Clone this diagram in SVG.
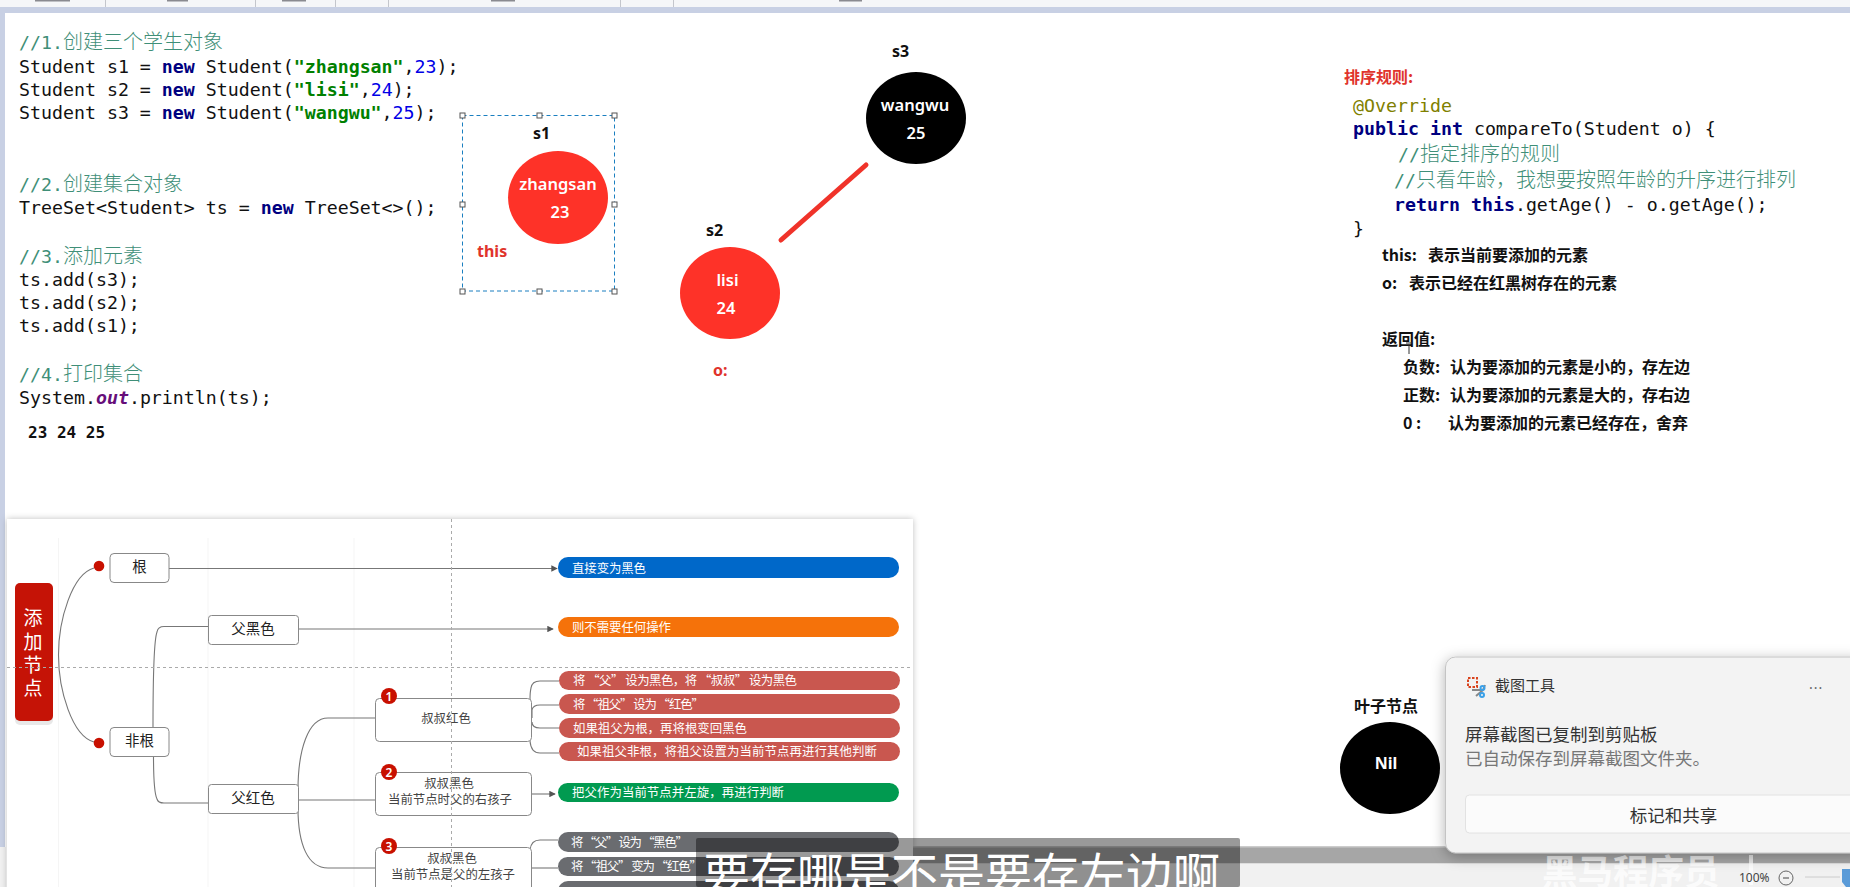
<svg xmlns="http://www.w3.org/2000/svg" width="1850" height="887" viewBox="0 0 1850 887">
<style>
text{font-family:"Noto Sans","Noto Sans CJK SC",sans-serif}
.code{font-family:"DejaVu Sans Mono","Noto Sans CJK SC",monospace;font-size:18.25px;fill:#111}
.cm{font-family:"DejaVu Sans Mono","Noto Sans CJK SC",monospace;font-size:18.25px;fill:#3f8f78}
.cj{font-family:"Noto Sans CJK SC",sans-serif;font-size:20px;font-weight:300}
.kw{fill:#000080;font-weight:bold}
.str{fill:#008000;font-weight:bold}
.num{fill:#0000e6}
.lb{font-size:16px;font-weight:700;fill:#111}
.in{font-size:16.5px;font-weight:600;fill:#fff;text-anchor:middle}
.red{font-size:16px;font-weight:700;fill:#e0332b}
.note{font-family:"Noto Sans CJK SC",sans-serif;font-size:16px;font-weight:700;fill:#111}
.h{fill:#fff;stroke:#555;stroke-width:1}
.conn{fill:none;stroke:#777;stroke-width:1.1}
.mn{fill:#fff;stroke:#888;stroke-width:1}
.mt{font-family:"Noto Sans CJK SC",sans-serif;font-size:14.5px;fill:#222;text-anchor:middle}
.ms{font-family:"Noto Sans CJK SC",sans-serif;font-size:12.4px;fill:#444;text-anchor:middle}
.pt{font-family:"Noto Sans CJK SC",sans-serif;font-size:12.4px;fill:#fff}
.bd{fill:#c81000}
.bt{font-size:12px;font-weight:600;fill:#fff;text-anchor:middle}
.guide{fill:none;stroke:#aaa;stroke-width:1;stroke-dasharray:3 3}
.faint{stroke:#f5f5f5;stroke-width:1}
</style>
<defs>
<marker id="ah" viewBox="0 0 8 8" refX="7" refY="4" markerWidth="6.5" markerHeight="6.5" markerUnits="userSpaceOnUse" orient="auto"><path d="M0 0L8 4L0 8Z" fill="#555"/></marker>
<filter id="sh" x="-5%" y="-5%" width="110%" height="110%"><feDropShadow dx="0" dy="0" stdDeviation="3" flood-color="#000" flood-opacity=".25"/></filter>
<filter id="ts" x="-10%" y="-10%" width="120%" height="120%"><feDropShadow dx="0" dy="3" stdDeviation="7" flood-color="#000" flood-opacity=".3"/></filter>
</defs>

<rect width="1850" height="887" fill="#fff"/>
<g id="chrome">
<rect width="1850" height="7" fill="#f5f6f8"/>
<rect y="7" width="1850" height="6" fill="#c8d0e4"/>
<rect y="13" width="5" height="834" fill="#c8d0e4"/>
<rect y="847" width="6" height="40" fill="#f1f1f1"/>
<g fill="#c4c6cc"><rect x="105" width="1" height="7"/><rect x="255" width="1" height="7"/><rect x="335" width="1" height="7"/><rect x="388" width="1" height="7"/><rect x="620" width="1" height="7"/><rect x="673" width="1" height="7"/></g>
<g fill="#8a8a90"><rect x="35" width="35" height="1.500"/><rect x="167" width="21" height="1.500"/><rect x="282" width="24" height="1.500"/><rect x="491" width="24" height="1.500"/><rect x="839" width="23" height="1.500"/></g>
</g>

<g id="code-main">
<text class="cm" x="19" y="49">//1.<tspan class="cj">创建三个学生对象</tspan></text>
<text class="code" x="19" y="73">Student s1 = <tspan class="kw">new</tspan> Student(<tspan class="str">"zhangsan"</tspan>,<tspan class="num">23</tspan>);</text>
<text class="code" x="19" y="96">Student s2 = <tspan class="kw">new</tspan> Student(<tspan class="str">"lisi"</tspan>,<tspan class="num">24</tspan>);</text>
<text class="code" x="19" y="119">Student s3 = <tspan class="kw">new</tspan> Student(<tspan class="str">"wangwu"</tspan>,<tspan class="num">25</tspan>);</text>
<text class="cm" x="19" y="191">//2.<tspan class="cj">创建集合对象</tspan></text>
<text class="code" x="19" y="214">TreeSet&lt;Student&gt; ts = <tspan class="kw">new</tspan> TreeSet&lt;&gt;();</text>
<text class="cm" x="19" y="263">//3.<tspan class="cj">添加元素</tspan></text>
<text class="code" x="19" y="286">ts.add(s3);</text>
<text class="code" x="19" y="309">ts.add(s2);</text>
<text class="code" x="19" y="332">ts.add(s1);</text>
<text class="cm" x="19" y="381">//4.<tspan class="cj">打印集合</tspan></text>
<text class="code" x="19" y="404">System.<tspan fill="#660e7a" font-style="italic" font-weight="bold">out</tspan>.println(ts);</text>
<text x="28" y="438" style="font-family:'DejaVu Sans Mono',monospace;font-size:16px;font-weight:700;fill:#111">23 24 25</text>
</g>

<g id="connectors-tree">
<line x1="866" y1="165" x2="781" y2="240" stroke="#f0332a" stroke-width="5" stroke-linecap="round"/>
</g>
<g id="node-s1">
<ellipse cx="558" cy="197.500" rx="50" ry="46.500" fill="#fe3228"/>
<text class="lb" x="533" y="139">s1</text>
<text class="in" x="558" y="190">zhangsan</text>
<text class="in" x="560" y="218">23</text>
<text class="red" x="477" y="257">this</text>
</g>
<g id="selection">
<rect x="462.500" y="115.500" width="152" height="175.500" fill="none" stroke="#1a7fc0" stroke-width="1" stroke-dasharray="4 3"/>
<rect class="h" x="460" y="113" width="5" height="5"/><rect class="h" x="537" y="113" width="5" height="5"/><rect class="h" x="612" y="113" width="5" height="5"/>
<rect class="h" x="460" y="202" width="5" height="5"/><rect class="h" x="612" y="202" width="5" height="5"/>
<rect class="h" x="460" y="289" width="5" height="5"/><rect class="h" x="537" y="289" width="5" height="5"/><rect class="h" x="612" y="289" width="5" height="5"/>
</g>
<g id="node-s2">
<ellipse cx="730" cy="293" rx="50" ry="46" fill="#fe3228"/>
<text class="lb" x="706" y="236">s2</text>
<text class="in" x="727.500" y="286">lisi</text>
<text class="in" x="726" y="314">24</text>
<text class="red" x="713" y="376">o:</text>
</g>
<g id="node-s3">
<ellipse cx="916" cy="118" rx="50" ry="46" fill="#000"/>
<text class="lb" x="892" y="57">s3</text>
<text class="in" x="915" y="111">wangwu</text>
<text class="in" x="916" y="139">25</text>
</g>

<g id="rules">
<text x="1344" y="83" style="font-family:'Noto Sans CJK SC',sans-serif;font-size:16px;font-weight:700;fill:#e0332b">排序规则:</text>
<text class="code" x="1353" y="112" style="fill:#808000">@Override</text>
<text class="code" x="1353" y="135"><tspan class="kw">public</tspan> <tspan class="kw">int</tspan> compareTo(Student o) {</text>
<text class="cm" x="1398" y="161">//<tspan class="cj">指定排序的规则</tspan></text>
<text class="cm" x="1394" y="187">//<tspan class="cj">只看年龄，我想要按照年龄的升序进行排列</tspan></text>
<text class="code" x="1394" y="211"><tspan class="kw">return</tspan> <tspan class="kw">this</tspan>.getAge() - o.getAge();</text>
<text class="code" x="1353" y="235">}</text>
<text class="note" x="1382" y="261">this: <tspan x="1428">表示当前要添加的元素</tspan></text>
<text class="note" x="1382" y="289">o: <tspan x="1409">表示已经在红黑树存在的元素</tspan></text>
<text class="note" x="1382" y="345">返回值:</text>
<text class="note" x="1403" y="373">负数: <tspan x="1450">认为要添加的元素是小的，存左边</tspan></text>
<text class="note" x="1403" y="401">正数: <tspan x="1450">认为要添加的元素是大的，存右边</tspan></text>
<text class="note" x="1403" y="429">0 : <tspan x="1448">认为要添加的元素已经存在，舍弃</tspan></text>
<path d="M1409 345V354M1406 343h6" stroke="#333" stroke-width="1" fill="none"/>
</g>

<g id="node-nil">
<text class="note" x="1354" y="712">叶子节点</text>
<ellipse cx="1390" cy="768" rx="50" ry="46" fill="#000"/>
<text x="1386" y="769" style="font-size:16px;font-weight:700;fill:#fff;text-anchor:middle">Nil</text>
</g>

<g id="mindmap">
<rect x="7" y="519" width="906" height="380" fill="#fff" filter="url(#sh)"/>
<g class="faint"><line x1="58.500" y1="538" x2="58.500" y2="887"/><line x1="208" y1="538" x2="208" y2="887"/><line x1="354" y1="538" x2="354" y2="887"/></g>
<g id="connectors">
<path class="conn" d="M94 568C72 574 58.500 620 58.500 655C58.500 690 72 736 94 742"/>
<path class="conn" d="M169 568.500H557" marker-end="url(#ah)"/>
<path class="conn" d="M299 629H553" marker-end="url(#ah)"/>
<path class="conn" d="M153 727C153 680 154 640 157 632Q158 626.500 164 626.500H208"/>
<path class="conn" d="M153.500 756C153.500 780 155 795 157 799Q158 803 164 803H208"/>
<path class="conn" d="M298 790C298 750 308 718 328 718H375"/>
<path class="conn" d="M299 800H375"/>
<path class="conn" d="M298 808C298 845 308 868 328 868H375"/>
<path class="conn" d="M530 700Q530 692 531 688Q532 681 540 681H559"/>
<path class="conn" d="M532 718Q532 710 532 710Q533 705 540 705H559"/>
<path class="conn" d="M532 722Q532 728 540 728H559"/>
<path class="conn" d="M530 741Q531 753 540 753H559"/>
<path class="conn" d="M532 794H555" marker-end="url(#ah)"/>
<path class="conn" d="M530 850Q531 840 540 840H558"/>
<path class="conn" d="M532 868H558"/>
</g>
<g id="m-root">
<rect x="15" y="587" width="38" height="138" rx="5" fill="#e8e8e8"/>
<rect x="15" y="583" width="38" height="138" rx="5" fill="#c51306"/>
<g style="font-family:'Noto Sans CJK SC',sans-serif;font-size:19px;fill:#fff;text-anchor:middle"><text x="33" y="625">添</text><text x="33" y="649">加</text><text x="33" y="672">节</text><text x="33" y="695">点</text></g>
</g>
<g id="m-gen"><circle class="bd" cx="99" cy="566" r="5.300"/><rect class="mn" x="110" y="553.500" width="59" height="29" rx="4"/><text class="mt" x="139.500" y="572">根</text></g>
<g id="m-nongen"><circle class="bd" cx="99" cy="743" r="5.300"/><rect class="mn" x="110" y="727.500" width="59" height="29" rx="4"/><text class="mt" x="139.500" y="746">非根</text></g>
<g id="m-fb"><rect class="mn" x="208.500" y="615.500" width="90" height="29" rx="3"/><text class="mt" x="253" y="634">父黑色</text></g>
<g id="m-fr"><rect class="mn" x="208.500" y="784.500" width="90" height="29" rx="3"/><text class="mt" x="253" y="803">父红色</text></g>
<g id="m-c1"><rect class="mn" x="375.500" y="698.500" width="156" height="43" rx="4"/><text class="ms" x="446" y="723">叔叔红色</text><circle class="bd" cx="389" cy="696" r="8"/><text class="bt" x="389" y="700.500">1</text></g>
<g id="m-c2"><rect class="mn" x="375.500" y="772.500" width="156" height="43" rx="4"/><text class="ms" x="449" y="788">叔叔黑色</text><text class="ms" x="450" y="804">当前节点时父的右孩子</text><circle class="bd" cx="389" cy="772" r="8"/><text class="bt" x="389" y="776.500">2</text></g>
<g id="m-c3"><rect class="mn" x="375.500" y="847.500" width="156" height="60" rx="4"/><text class="ms" x="452" y="863">叔叔黑色</text><text class="ms" x="453" y="879">当前节点是父的左孩子</text><circle class="bd" cx="389" cy="846" r="8"/><text class="bt" x="389" y="850.500">3</text></g>
<g id="m-p1"><rect x="558" y="557" width="341" height="21" rx="10" fill="#0068c9"/><text class="pt" x="572" y="573" textLength="74">直接变为黑色</text></g>
<g id="m-p2"><rect x="558" y="617" width="341" height="20" rx="10" fill="#f5720a"/><text class="pt" x="572" y="632" textLength="99">则不需要任何操作</text></g>
<g id="m-r1"><rect x="559" y="671" width="341" height="19" rx="9.500" fill="#c9574f"/><text class="pt" x="573" y="685" textLength="224">将 “父” 设为黑色，将 “叔叔” 设为黑色</text></g>
<g id="m-r2"><rect x="559" y="694" width="341" height="20" rx="10" fill="#c9574f"/><text class="pt" x="573" y="709" textLength="131">将 “祖父” 设为 “红色”</text></g>
<g id="m-r3"><rect x="559" y="718" width="341" height="20" rx="10" fill="#c9574f"/><text class="pt" x="573" y="733" textLength="174">如果祖父为根，再将根变回黑色</text></g>
<g id="m-r4"><rect x="559" y="742" width="341" height="19" rx="9.500" fill="#c9574f"/><text class="pt" x="577" y="756" textLength="300">如果祖父非根，将祖父设置为当前节点再进行其他判断</text></g>
<g id="m-g"><rect x="558" y="783" width="341" height="19" rx="9.500" fill="#019a50"/><text class="pt" x="572" y="797" textLength="212">把父作为当前节点并左旋，再进行判断</text></g>
<g id="m-d1"><rect x="558" y="832" width="341" height="20" rx="10" fill="#6a6c70"/><text class="pt" x="571" y="847" textLength="117">将 “父” 设为 “黑色”</text></g>
<g id="m-d2"><rect x="558" y="857" width="341" height="19" rx="9.500" fill="#6a6c70"/><text class="pt" x="571" y="871" textLength="131">将 “祖父” 变为 “红色”</text></g>
<g id="m-d3"><rect x="558" y="881" width="341" height="20" rx="10" fill="#6a6c70"/></g>
<path class="guide" d="M7 667.500H913M451.500 519V887"/>
</g>

<g id="bottom-bar">
<rect x="913" y="847" width="937" height="16" fill="#a6a6a6"/>
<rect x="913" y="846" width="937" height="1.500" fill="#ccc"/>
<rect x="913" y="863" width="937" height="24" fill="#f1f1f1"/>
<rect x="913" y="863" width="937" height="1" fill="#ddd"/>
<text x="1542" y="885" style="font-family:'Noto Sans CJK SC',sans-serif;font-size:35.500px;font-weight:700;fill:#fff;fill-opacity:.75">黑马程序员</text>
<rect x="1749" y="855" width="4" height="30" fill="#fff" fill-opacity=".7"/>
<text x="1739" y="882" style="font-size:12px;fill:#444">100%</text>
<circle cx="1786" cy="878" r="7" fill="none" stroke="#666"/><path d="M1783 878h6" stroke="#444"/>
<path d="M1805 877H1840" stroke="#ccc"/>
<path d="M1842 869h8v18h-4l-4-5Z" fill="#5a9bd8"/>
</g>

<g id="subtitle">
<rect x="696" y="838" width="544" height="49" rx="2" fill="#000" fill-opacity=".4"/>
<text x="703" y="892" style="font-family:'Noto Sans CJK SC',sans-serif;font-size:47px;fill:#fff">要存哪是不是要存左边啊</text>
</g>

<g id="toast">
<rect x="1445.500" y="657" width="420" height="196" rx="10" fill="#f3f3f3" stroke="#c4c4c4" filter="url(#ts)"/>
<g fill="none" stroke-width="2"><rect x="1468" y="678" width="9" height="9" stroke="#d9431c" stroke-dasharray="2.500 1.500"/><path d="M1472 690L1483 690L1485 685M1483 690L1476 696" stroke="#888"/><circle cx="1482" cy="695" r="2" stroke="#3aa0e8"/><circle cx="1482.500" cy="688" r="2" stroke="#3aa0e8"/></g>
<text x="1495" y="691" style="font-family:'Noto Sans CJK SC',sans-serif;font-size:15px;fill:#333">截图工具</text>
<text x="1809" y="689" style="font-size:14px;fill:#666;letter-spacing:1px">...</text>
<text x="1465" y="741" style="font-family:'Noto Sans CJK SC',sans-serif;font-size:17.500px;fill:#333">屏幕截图已复制到剪贴板</text>
<text x="1465" y="765" style="font-family:'Noto Sans CJK SC',sans-serif;font-size:17.500px;fill:#777">已自动保存到屏幕截图文件夹。</text>
<rect x="1465.500" y="795" width="400" height="38" rx="4" fill="#fbfbfb" stroke="#e2e2e2"/>
<text x="1673.500" y="822" style="font-family:'Noto Sans CJK SC',sans-serif;font-size:17.500px;fill:#333;text-anchor:middle">标记和共享</text>
</g>
</svg>
